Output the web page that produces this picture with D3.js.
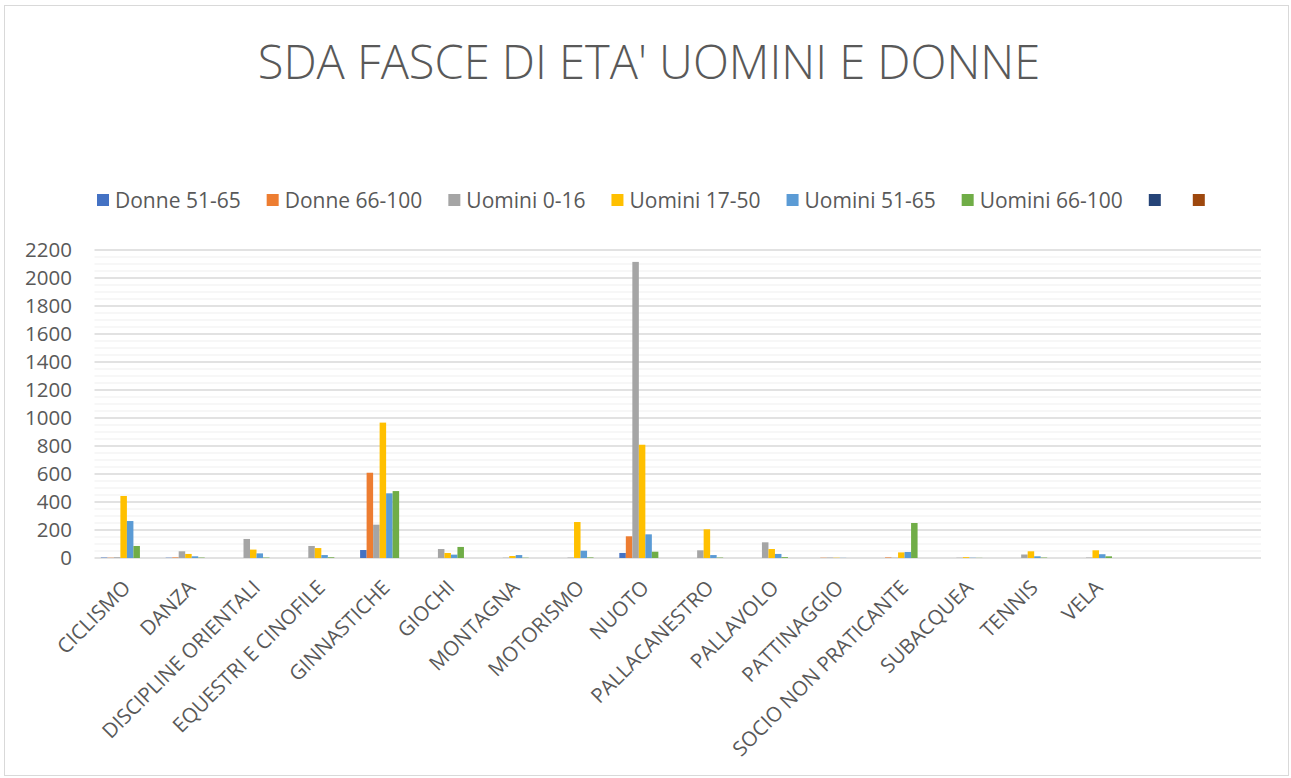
<!DOCTYPE html>
<meta charset="utf-8">
<style>
  body { margin: 0; background: #fff; }
  text { font-family: "Open Sans", "Noto Sans", sans-serif; fill: #595959; }
</style>
<body>
<svg width="1291" height="778"></svg>
<script src="https://cdn.jsdelivr.net/npm/d3@7"></script>
<script>

    var categories = ["CICLISMO", "DANZA", "DISCIPLINE ORIENTALI", "EQUESTRI E CINOFILE", "GINNASTICHE",
        "GIOCHI", "MONTAGNA", "MOTORISMO", "NUOTO", "PALLACANESTRO", "PALLAVOLO", "PATTINAGGIO",
        "SOCIO NON PRATICANTE", "SUBACQUEA", "TENNIS", "VELA", "", ""];

    var seriesNames = ["Donne 51-65", "Donne 66-100", "Uomini 0-16", "Uomini 17-50",
        "Uomini 51-65", "Uomini 66-100", "", ""];
    var colors = ["#4472C4", "#ED7D31", "#A5A5A5", "#FFC000", "#5B9BD5", "#70AD47", "#264478", "#9E480E"];

    var donne5165   = [3, 2, 0, 0, 57, 0, 0, 0, 36, 0, 0, 0, 0, 0, 0, 0, 0, 0];
    var donne66100  = [2, 4, 0, 0, 609, 0, 0, 0, 155, 0, 0, 2, 4, 0, 0, 0, 0, 0];
    var uomini016   = [5, 48, 136, 86, 238, 64, 2, 3, 2115, 55, 112, 3, 2, 2, 25, 3, 0, 0];
    var uomini1750  = [443, 29, 60, 71, 967, 36, 14, 257, 809, 205, 64, 2, 40, 6, 48, 55, 0, 0];
    var uomini5165  = [264, 12, 33, 21, 462, 24, 21, 52, 169, 21, 29, 1, 43, 2, 12, 27, 0, 0];
    var uomini66100 = [86, 3, 3, 5, 478, 79, 2, 4, 45, 3, 6, 0, 250, 1, 3, 12, 0, 0];
    var serie7      = [0, 0, 0, 0, 0, 0, 0, 0, 0, 0, 0, 0, 0, 0, 0, 0, 0, 0];
    var serie8      = [0, 0, 0, 0, 0, 0, 0, 0, 0, 0, 0, 0, 0, 0, 0, 0, 0, 0];

    var yTicks = [0, 200, 400, 600, 800, 1000, 1200, 1400, 1600, 1800, 2000, 2200];

    var values = [donne5165, donne66100, uomini016, uomini1750, uomini5165, uomini66100, serie7, serie8];

    var svg = d3.select("svg");

    // chart border
    svg.append("rect")
        .attr("x", 4.5).attr("y", 5.5)
        .attr("width", 1284).attr("height", 770)
        .attr("fill", "#fff")
        .attr("stroke", "#d9d9d9");

    // title
    svg.append("text")
        .attr("x", 649).attr("y", 79)
        .attr("text-anchor", "middle")
        .style("font-size", "47px")
        .style("font-weight", 300)
        .text("SDA FASCE DI ETA' UOMINI E DONNE");

    var plotLeft = 94.5, plotRight = 1261, plotTop = 250, plotBottom = 558;

    var x0 = d3.scaleBand()
        .domain(d3.range(categories.length))
        .range([plotLeft, plotRight]);

    var x1 = d3.scaleBand()
        .domain(d3.range(seriesNames.length))
        .range([0, x0.bandwidth()])
        .paddingOuter(0.98);

    var y = d3.scaleLinear()
        .domain([0, 2200])
        .range([plotBottom, plotTop]);

    // minor gridlines every 50
    svg.append("g")
        .selectAll("line")
        .data(d3.range(50, 2200, 50).filter(function (v) { return v % 200 !== 0; }))
        .enter().append("line")
        .attr("x1", plotLeft).attr("x2", plotRight)
        .attr("y1", function (d) { return y(d); })
        .attr("y2", function (d) { return y(d); })
        .attr("stroke", "#f0f0f0")
        .attr("stroke-width", 1.2);

    // major gridlines
    svg.append("g")
        .selectAll("line")
        .data(yTicks)
        .enter().append("line")
        .attr("x1", plotLeft).attr("x2", plotRight)
        .attr("y1", function (d) { return y(d); })
        .attr("y2", function (d) { return y(d); })
        .attr("stroke", "#d9d9d9")
        .attr("stroke-width", 1.5);

    // y axis labels
    svg.append("g")
        .selectAll("text")
        .data(yTicks)
        .enter().append("text")
        .attr("x", 72)
        .attr("y", function (d) { return y(d); })
        .attr("dy", "0.36em")
        .attr("text-anchor", "end")
        .style("font-size", "20.5px")
        .text(function (d) { return d; });

    // bars
    var groups = svg.append("g")
        .selectAll("g")
        .data(values)
        .enter().append("g")
        .attr("fill", function (d, i) { return colors[i]; });

    groups.selectAll("rect")
        .data(function (d, i) {
            return d.map(function (v, c) { return {s: i, c: c, v: v}; });
        })
        .enter().append("rect")
        .attr("x", function (d) { return x0(d.c) + x1(d.s); })
        .attr("width", x1.bandwidth())
        .attr("y", function (d) { return y(d.v); })
        .attr("height", function (d) { return y(0) - y(d.v); });

    // category labels
    svg.append("g")
        .selectAll("text")
        .data(categories)
        .enter().append("text")
        .attr("transform", function (d, i) {
            return "translate(" + (x0(i) + x0.bandwidth() / 2 + 5) + "," + 589 + ") rotate(-45)";
        })
        .attr("text-anchor", "end")
        .style("font-size", "20.5px")
        .text(function (d) { return d; });

    // legend
    var legend = svg.append("g");
    var lx = 97;
    seriesNames.forEach(function (name, i) {
        legend.append("rect")
            .attr("x", lx).attr("y", 194)
            .attr("width", 12).attr("height", 12)
            .attr("fill", colors[i]);
        var t = legend.append("text")
            .attr("x", lx + 18).attr("y", 200)
            .attr("dy", "0.36em")
            .style("font-size", "21px")
            .text(name);
        lx += 18 + t.node().getComputedTextLength() + 26;
    });

</script>
</body>
